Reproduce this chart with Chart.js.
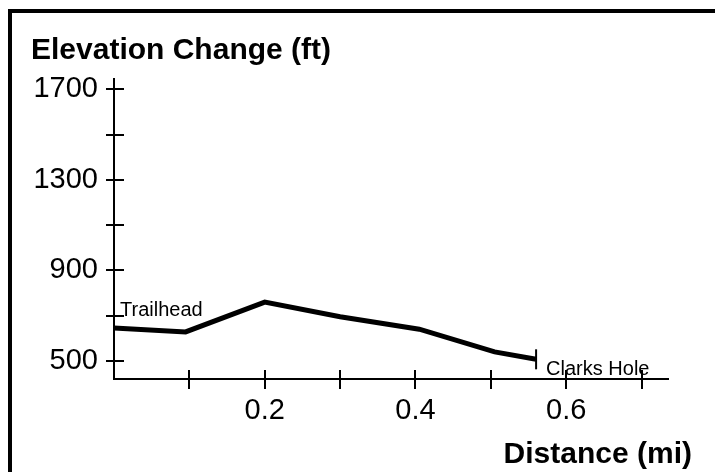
<!DOCTYPE html>
<html lang="en">
<head>
    <meta charset="UTF-8">
    <title>Elevation Change</title>
    <script src="https://cdn.jsdelivr.net/npm/chart.js"></script>
    <style>
        body {
            margin: 0;
            background: #ffffff;
            overflow: hidden;
        }

        .chart-box {
            position: relative;
            width: 715px;
            height: 472px;
            overflow: hidden;
        }

        /* marco negro (solo arriba e izquierda, el resto queda fuera de la imagen) */
        .frame {
            position: absolute;
            left: 8px;
            top: 9px;
            width: 800px;
            height: 600px;
            border-left: 4px solid #000;
            border-top: 4px solid #000;
            pointer-events: none;
        }
    </style>
</head>
<body>
    <div class="chart-box">
        <canvas id="elevationChart"></canvas>
        <div class="frame"></div>
    </div>

    <script>
        // datos
        const distance = [0, 0.095, 0.2, 0.3, 0.405, 0.505, 0.56];
        const elevation = [645, 628, 760, 695, 640, 540, 507];

        const xTicks = [0.1, 0.2, 0.3, 0.4, 0.5, 0.6, 0.7];
        const xLabels = [0.2, 0.4, 0.6];
        const yTicks = [500, 700, 900, 1100, 1300, 1500, 1700];
        const yLabels = [500, 900, 1300, 1700];

        const startLabel = 'Trailhead';
        const endLabel = 'Clarks Hole';
        const yTitle = 'Elevation Change (ft)';
        const xTitle = 'Distance (mi)';

        const FONT = '"Liberation Sans", Arial, sans-serif';

        // marcas que cruzan los ejes y etiquetas de inicio / fin
        const extras = {
            id: 'extras',
            afterDraw(chart) {
                const { ctx, chartArea, scales: { x, y } } = chart;
                ctx.save();
                ctx.strokeStyle = '#000';
                ctx.lineWidth = 2;
                ctx.beginPath();
                x.ticks.forEach(t => {
                    const px = Math.round(x.getPixelForValue(t.value));
                    ctx.moveTo(px, chartArea.bottom - 9);
                    ctx.lineTo(px, chartArea.bottom + 10);
                });
                y.ticks.forEach(t => {
                    const py = Math.round(y.getPixelForValue(t.value));
                    ctx.moveTo(chartArea.left - 8, py);
                    ctx.lineTo(chartArea.left + 10, py);
                });
                ctx.stroke();

                const pts = chart.getDatasetMeta(0).data;
                const first = pts[0];
                const last = pts[pts.length - 1];
                ctx.fillStyle = '#000';
                ctx.textBaseline = 'alphabetic';
                ctx.textAlign = 'left';
                ctx.font = '20px ' + FONT;
                ctx.fillText(startLabel, first.x + 6, first.y - 12);
                ctx.fillText(endLabel, last.x + 10, last.y + 16);

                ctx.font = 'bold 30px ' + FONT;
                ctx.textAlign = 'right';
                ctx.fillText(xTitle, chartArea.right + 24, chartArea.bottom + 84);
                ctx.restore();
            }
        };

        const ctx = document.getElementById('elevationChart').getContext('2d');
        new Chart(ctx, {
            type: 'line',
            data: {
                datasets: [{
                    data: distance.map((d, i) => ({ x: d, y: elevation[i] })),
                    borderColor: '#000',
                    borderWidth: 5,
                    tension: 0,
                    fill: false,
                    clip: false,
                    pointStyle: 'line',
                    rotation: 90,
                    pointRadius: c => c.dataIndex === distance.length - 1 ? 10 : 0,
                    pointHoverRadius: c => c.dataIndex === distance.length - 1 ? 10 : 0,
                    pointBorderWidth: 2,
                    pointBorderColor: '#000'
                }]
            },
            options: {
                responsive: true,
                maintainAspectRatio: false,
                animation: false,
                events: [],
                layout: {
                    autoPadding: false,
                    padding: { left: 31, right: 47, top: 0, bottom: 0 }
                },
                plugins: {
                    legend: { display: false },
                    tooltip: { enabled: false },
                    title: {
                        display: true,
                        text: yTitle,
                        align: 'start',
                        color: '#000',
                        font: { family: FONT, size: 30, weight: 'bold' },
                        padding: { top: 33, bottom: 9.5 }
                    }
                },
                scales: {
                    x: {
                        type: 'linear',
                        min: 0,
                        max: 0.735,
                        afterBuildTicks: s => { s.ticks = xTicks.map(v => ({ value: v })); },
                        afterFit: s => { s.height = 93; },
                        grid: { display: false },
                        border: { display: true, color: '#000', width: 2 },
                        ticks: {
                            autoSkip: false,
                            maxRotation: 0,
                            padding: 7,
                            color: '#000',
                            font: { family: FONT, size: 29 },
                            callback: v => xLabels.includes(Math.round(v * 10) / 10) ? v.toFixed(1) : ''
                        }
                    },
                    y: {
                        min: 420,
                        max: 1748,
                        afterBuildTicks: s => { s.ticks = yTicks.map(v => ({ value: v })); },
                        afterFit: s => { s.width = 83; },
                        grid: { display: false },
                        border: { display: true, color: '#000', width: 2 },
                        ticks: {
                            autoSkip: false,
                            padding: 8,
                            color: '#000',
                            font: { family: FONT, size: 29 },
                            callback: v => yLabels.includes(v) ? String(v) : ''
                        }
                    }
                }
            },
            plugins: [extras]
        });
    </script>
</body>
</html>
